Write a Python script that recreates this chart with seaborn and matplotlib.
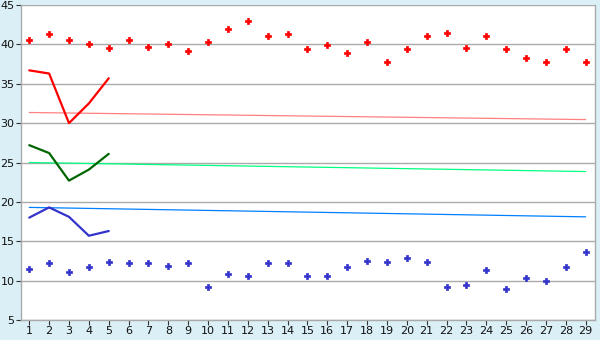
import matplotlib
matplotlib.use("Agg")
import matplotlib.pyplot as plt
import seaborn as sns
import pandas as pd
import numpy as np

days = list(range(1, 30))
red_points = [40.6, 41.3, 40.6, 40.0, 39.5, 40.6, 39.7, 40.1, 39.2, 40.3,
              41.9, 43.0, 41.1, 41.3, 39.4, 39.9, 38.9, 40.3, 37.8, 39.4,
              41.0, 41.5, 39.6, 41.1, 39.4, 38.3, 37.8, 39.4, 37.8]
blue_points = [11.5, 12.2, 11.1, 11.7, 12.4, 12.2, 12.2, 11.8, 12.2, 9.2,
               10.8, 10.6, 12.2, 12.2, 10.6, 10.6, 11.7, 12.5, 12.4, 12.9,
               12.4, 9.2, 9.4, 11.3, 8.9, 10.3, 10.0, 11.7, 13.6]
short_days = [1, 2, 3, 4, 5]
red_line = [36.7, 36.3, 30.0, 32.5, 35.7]
green_line = [27.2, 26.2, 22.7, 24.1, 26.1]
blue_line = [18.0, 19.3, 18.1, 15.7, 16.3]
trend_days = [1, 29]
red_trend = [31.35, 30.45]
green_trend = [25.0, 23.85]
blue_trend = [19.3, 18.1]
y_ticks = [5, 10, 15, 20, 25, 30, 35, 40, 45]

sns.set_theme(style="white")
plt.rcParams['font.family'] = ['DejaVu Sans']

fig = plt.figure(figsize=(6, 3.4), dpi=100)
fig.patch.set_facecolor('#daeff6')
ax = fig.add_axes([0.0345, 0.0588, 0.9575, 0.9265])
ax.set_facecolor('white')

for yv in y_ticks:
    ax.axhline(yv, color='#aaaaaa', lw=1.0, zorder=0)

for vals, col in [(red_trend, '#ff8080'), (green_trend, '#00ff80'), (blue_trend, '#0080ff')]:
    sns.lineplot(x=trend_days, y=vals, color=col, lw=0.9, ax=ax)

for vals, col in [(red_line, '#ff0000'), (green_line, '#006600'), (blue_line, '#3333cc')]:
    sns.lineplot(x=short_days, y=vals, color=col, lw=1.6, ax=ax)

sns.scatterplot(x=days, y=red_points, color='#ff0000', marker='P', s=18,
                edgecolor='#ff0000', linewidth=0.5, ax=ax)
sns.scatterplot(x=days, y=blue_points, color='#3333cc', marker='P', s=18,
                edgecolor='#3333cc', linewidth=0.5, ax=ax)

ax.set_xlim(0.57, 29.48)
ax.set_ylim(5, 45)
ax.set_xticks(days)
ax.set_xticklabels([str(d) for d in days])
ax.set_yticks(y_ticks)
ax.set_yticklabels([str(v) for v in y_ticks])
ax.tick_params(axis='both', which='both', direction='out', length=3.5, width=0.8,
               color='#333333', labelsize=8, labelcolor='#111111', pad=1,
               bottom=True, left=True)
for side in ['left', 'right', 'bottom', 'top']:
    ax.spines[side].set_color('#aaaaaa')
    ax.spines[side].set_linewidth(1.0)
    ax.spines[side].set_visible(True)
ax.spines['top'].set_visible(False)

fig.savefig('out.png', dpi=100, facecolor=fig.get_facecolor())
